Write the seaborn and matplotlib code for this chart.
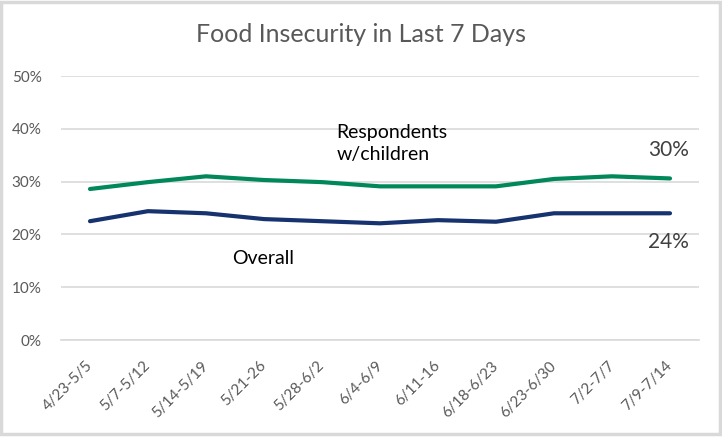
import pandas as pd
import numpy as np
import matplotlib
matplotlib.use('Agg')
import matplotlib.pyplot as plt
import seaborn as sns
from matplotlib.patches import Rectangle

weeks = ['4/23-5/5', '5/7-5/12', '5/14-5/19', '5/21-26', '5/28-6/2', '6/4-6/9',
         '6/11-16', '6/18-6/23', '6/23-6/30', '7/2-7/7', '7/9-7/14']
with_children = [0.286, 0.299, 0.310, 0.303, 0.299, 0.291, 0.291, 0.291, 0.305, 0.310, 0.306]
overall = [0.225, 0.244, 0.240, 0.229, 0.225, 0.221, 0.227, 0.224, 0.240, 0.240, 0.240]

df = pd.DataFrame({
    'week': weeks * 2,
    'pos': list(range(len(weeks))) * 2,
    'value': with_children + overall,
    'group': ['Respondents w/children'] * len(weeks) + ['Overall'] * len(weeks),
})

sns.set_style('white')
plt.rcParams['font.family'] = ['Lato', 'DejaVu Sans']

fig = plt.figure(figsize=(7.22, 4.42), dpi=100)
ax = fig.add_axes([61 / 722, 1 - 340 / 442, 638 / 722, 264 / 442])

palette = {'Respondents w/children': '#00875A', 'Overall': '#17336F'}
sns.lineplot(data=df, x='pos', y='value', hue='group', palette=palette,
             linewidth=3.0, ax=ax, legend=False)
for line in ax.lines:
    line.set_solid_capstyle('round')

ax.set_xlim(-0.5, len(weeks) - 0.5)
ax.set_ylim(0, 0.5)
ax.set_yticks(np.arange(0, 0.51, 0.1))
ax.set_yticklabels([f'{int(round(v * 100))}%' for v in np.arange(0, 0.51, 0.1)])
ax.yaxis.grid(True, color='#D9D9D9', linewidth=1.2)
ax.set_axisbelow(True)

ax.set_xticks(range(len(weeks)))
ax.set_xticklabels(weeks, rotation=45, ha='right', va='center', rotation_mode='anchor')
ax.set_xticks(np.arange(-0.5, len(weeks), 1), minor=True)
ax.tick_params(axis='x', which='major', length=0, pad=17, labelsize=11, labelcolor='#595959')
ax.tick_params(axis='x', which='minor', length=5, direction='in', color='#D9D9D9', width=1.2)
ax.tick_params(axis='y', length=0, pad=14, labelsize=11, labelcolor='#595959')
ax.set_xlabel('')
ax.set_ylabel('')

for s in ['top', 'right', 'left']:
    ax.spines[s].set_visible(False)
ax.spines['bottom'].set_color('#D9D9D9')
ax.spines['bottom'].set_linewidth(1.2)

fig.text(0.5, 1 - 42 / 442, 'Food Insecurity in Last 7 Days', ha='center', va='baseline',
         fontsize=18, color='#595959')

ax.text(4.25, 0.373, 'Respondents\nw/children', fontsize=14, color='black',
        ha='left', va='center', linespacing=1.35)
ax.text(2.45, 0.155, 'Overall', fontsize=14, color='black', ha='left', va='center')
ax.text(10.33, 0.36, '30%', fontsize=15, color='#404040', ha='right', va='center')
ax.text(10.33, 0.186, '24%', fontsize=15, color='#404040', ha='right', va='center')

fig.patches.append(Rectangle((1 / 722, 1 - 434 / 442), 719 / 722, 432 / 442,
                             transform=fig.transFigure, fill=False,
                             edgecolor='#D9D9D9', linewidth=2.5))

fig.savefig('out.png', dpi=100)
